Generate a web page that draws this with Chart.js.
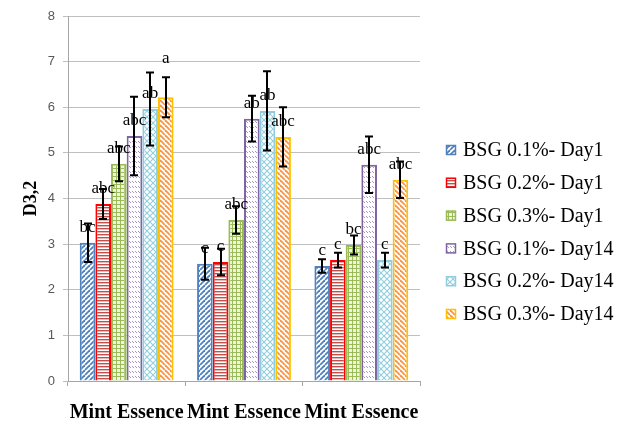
<!DOCTYPE html>
<html><head><meta charset="utf-8">
<script src="https://cdn.jsdelivr.net/npm/chart.js@4"></script>
<style>html,body{margin:0;padding:0;background:#fff}</style>
</head><body>
<canvas id="c" width="625" height="426"></canvas>
<script>
// Categories and series
const categories = ['Mint Essence', 'Mint Essence', 'Mint Essence'];
const seriesNames = ['BSG 0.1%- Day1', 'BSG 0.2%- Day1', 'BSG 0.3%- Day1',
                     'BSG 0.1%- Day14', 'BSG 0.2%- Day14', 'BSG 0.3%- Day14'];

// Mean D3,2 values
const bsg01Day1  = [3.03, 2.57, 2.52];
const bsg02Day1  = [3.88, 2.61, 2.65];
const bsg03Day1  = [4.76, 3.53, 2.98];
const bsg01Day14 = [5.37, 5.75, 4.74];
const bsg02Day14 = [5.96, 5.92, 2.65];
const bsg03Day14 = [6.22, 5.35, 4.41];

// Standard deviations (error bars)
const bsg01Day1Err  = [0.42, 0.35, 0.15];
const bsg02Day1Err  = [0.33, 0.29, 0.16];
const bsg03Day1Err  = [0.38, 0.30, 0.21];
const bsg01Day14Err = [0.86, 0.50, 0.62];
const bsg02Day14Err = [0.80, 0.87, 0.16];
const bsg03Day14Err = [0.44, 0.65, 0.40];

// Significance letters
const bsg01Day1Sig  = ['bc', 'c', 'c'];
const bsg02Day1Sig  = ['abc', 'c', 'c'];
const bsg03Day1Sig  = ['abc', 'abc', 'bc'];
const bsg01Day14Sig = ['abc', 'ab', 'abc'];
const bsg02Day14Sig = ['ab', 'ab', 'c'];
const bsg03Day14Sig = ['a', 'abc', 'abc'];

// Y axis ticks
const yTicks = [0, 1, 2, 3, 4, 5, 6, 7, 8];

// ---- fill patterns ----
function tile(w, h, bg, draw) {
  const t = document.createElement('canvas');
  t.width = w; t.height = h;
  const g = t.getContext('2d');
  g.fillStyle = bg; g.fillRect(0, 0, w, h);
  draw(g, w, h);
  return document.getElementById('c').getContext('2d').createPattern(t, 'repeat');
}
function diag(g, w, h, color, lw, up) {
  g.strokeStyle = color; g.lineWidth = lw;
  for (let k = -1; k <= 1; k++) {
    g.beginPath();
    if (up) { g.moveTo(k * w, h); g.lineTo(k * w + w, 0); }
    else { g.moveTo(k * w, 0); g.lineTo(k * w + w, h); }
    g.stroke();
  }
}
const patterns = [
  tile(5, 5, '#ffffff', (g, w, h) => diag(g, w, h, '#4f81bd', 1.8, true)),
  tile(4, 3, '#ffffff', (g) => { g.fillStyle = '#c0504d'; g.fillRect(0, 0, 4, 1.4); }),
  tile(4, 4, '#eef3e2', (g) => { g.fillStyle = '#9bbb59'; g.fillRect(0, 0, 4, 1); g.fillRect(0, 0, 1, 4); }),
  tile(6, 5, '#ffffff', (g) => {
    g.strokeStyle = '#a897c6'; g.lineWidth = 1;
    g.beginPath(); g.moveTo(0, 1); g.lineTo(2, 3); g.moveTo(3, 1); g.lineTo(5, 3); g.stroke();
  }),
  tile(6, 6, '#ffffff', (g, w, h) => { diag(g, w, h, '#93cddd', 1.1, true); diag(g, w, h, '#93cddd', 1.1, false); }),
  tile(5, 5, '#ffffff', (g, w, h) => diag(g, w, h, '#f79646', 1.8, false))
];
const borderColors = ['#4f81bd', '#ff0000', '#9bbb59', '#8064a2', '#93cddd', '#ffc000'];

const values = [bsg01Day1, bsg02Day1, bsg03Day1, bsg01Day14, bsg02Day14, bsg03Day14];
const errors = [bsg01Day1Err, bsg02Day1Err, bsg03Day1Err, bsg01Day14Err, bsg02Day14Err, bsg03Day14Err];
const letters = [bsg01Day1Sig, bsg02Day1Sig, bsg03Day1Sig, bsg01Day14Sig, bsg02Day14Sig, bsg03Day14Sig];

const datasets = seriesNames.map((name, i) => ({
  label: name,
  data: values[i],
  errors: errors[i],
  letters: letters[i],
  backgroundColor: patterns[i],
  borderColor: borderColors[i],
  borderWidth: 2,
  categoryPercentage: 0.8,
  barPercentage: 1.0
}));

// Error bars with caps
const errorBars = {
  id: 'errorBars',
  afterDatasetsDraw(chart) {
    const ctx = chart.ctx, y = chart.scales.y;
    ctx.save();
    ctx.strokeStyle = '#000'; ctx.lineWidth = 2;
    chart.data.datasets.forEach((ds, i) => {
      chart.getDatasetMeta(i).data.forEach((bar, j) => {
        const v = ds.data[j], e = ds.errors[j];
        const yt = y.getPixelForValue(v + e), yb = y.getPixelForValue(v - e);
        const x = Math.round(bar.x);
        ctx.beginPath();
        ctx.moveTo(x, yt); ctx.lineTo(x, yb);
        ctx.moveTo(x - 4, yt); ctx.lineTo(x + 4, yt);
        ctx.moveTo(x - 4, yb); ctx.lineTo(x + 4, yb);
        ctx.stroke();
      });
    });
    ctx.restore();
  }
};

// Significance letters above bars
const sigLabels = {
  id: 'sigLabels',
  afterDatasetsDraw(chart, args, opts) {
    const ctx = chart.ctx, y = chart.scales.y;
    ctx.save();
    ctx.font = '17px "Liberation Serif", "Times New Roman", serif';
    ctx.fillStyle = '#000'; ctx.textAlign = 'center'; ctx.textBaseline = 'alphabetic';
    chart.data.datasets.forEach((ds, i) => {
      chart.getDatasetMeta(i).data.forEach((bar, j) => {
        const raised = (opts.aboveWhisker || []).some(p => p[0] === j && p[1] === i);
        const yy = raised ? y.getPixelForValue(ds.data[j] + ds.errors[j]) - 14 : bar.y - 11;
        ctx.fillText(ds.letters[j], bar.x, yy);
      });
    });
    ctx.restore();
  }
};

// Legend at the right
const sideLegend = {
  id: 'sideLegend',
  afterDraw(chart) {
    const ctx = chart.ctx;
    ctx.save();
    ctx.font = '20px "Liberation Serif", "Times New Roman", serif';
    ctx.textBaseline = 'middle'; ctx.textAlign = 'left';
    chart.data.datasets.forEach((ds, i) => {
      const cy = 150 + i * 32.8;
      ctx.fillStyle = ds.backgroundColor;
      ctx.fillRect(446, cy - 5, 10, 10);
      ctx.strokeStyle = ds.borderColor; ctx.lineWidth = 1.5;
      ctx.strokeRect(446.5, cy - 4.5, 9, 9);
      ctx.fillStyle = '#000';
      ctx.fillText(ds.label, 463, cy + 1);
    });
    ctx.restore();
  }
};

new Chart(document.getElementById('c'), {
  type: 'bar',
  data: { labels: categories, datasets },
  options: {
    responsive: false,
    animation: false,
    devicePixelRatio: 1,
    layout: { padding: { top: 16, right: 205, left: 0, bottom: 0 } },
    plugins: {
      legend: { display: false },
      tooltip: { enabled: false },
      sigLabels: { aboveWhisker: [[0, 5]] }
    },
    scales: {
      x: {
        grid: { offset: true, drawOnChartArea: false, drawTicks: true, tickLength: 5, color: '#a6a6a6' },
        border: { color: '#a6a6a6' },
        ticks: {
          color: '#000', padding: 15, maxRotation: 0, autoSkip: false,
          font: { family: '"Liberation Serif", "Times New Roman", serif', size: 20, weight: 'bold' }
        },
        afterFit(s) { s.height = 45; }
      },
      y: {
        min: 0, max: 8,
        afterBuildTicks(s) { s.ticks = yTicks.map(v => ({ value: v })); },
        grid: { color: '#bfbfbf', tickLength: 5 },
        border: { color: '#a6a6a6' },
        ticks: {
          color: '#595959', padding: 8,
          font: { family: '"Liberation Sans", Arial, sans-serif', size: 13 }
        },
        title: {
          display: true, text: 'D3,2', color: '#000',
          padding: { top: 21, bottom: 0 },
          font: { family: '"Liberation Serif", "Times New Roman", serif', size: 18, weight: 'bold' }
        },
        afterFit(s) { s.width = 68; }
      }
    }
  },
  plugins: [errorBars, sigLabels, sideLegend]
});
</script>
</body></html>
